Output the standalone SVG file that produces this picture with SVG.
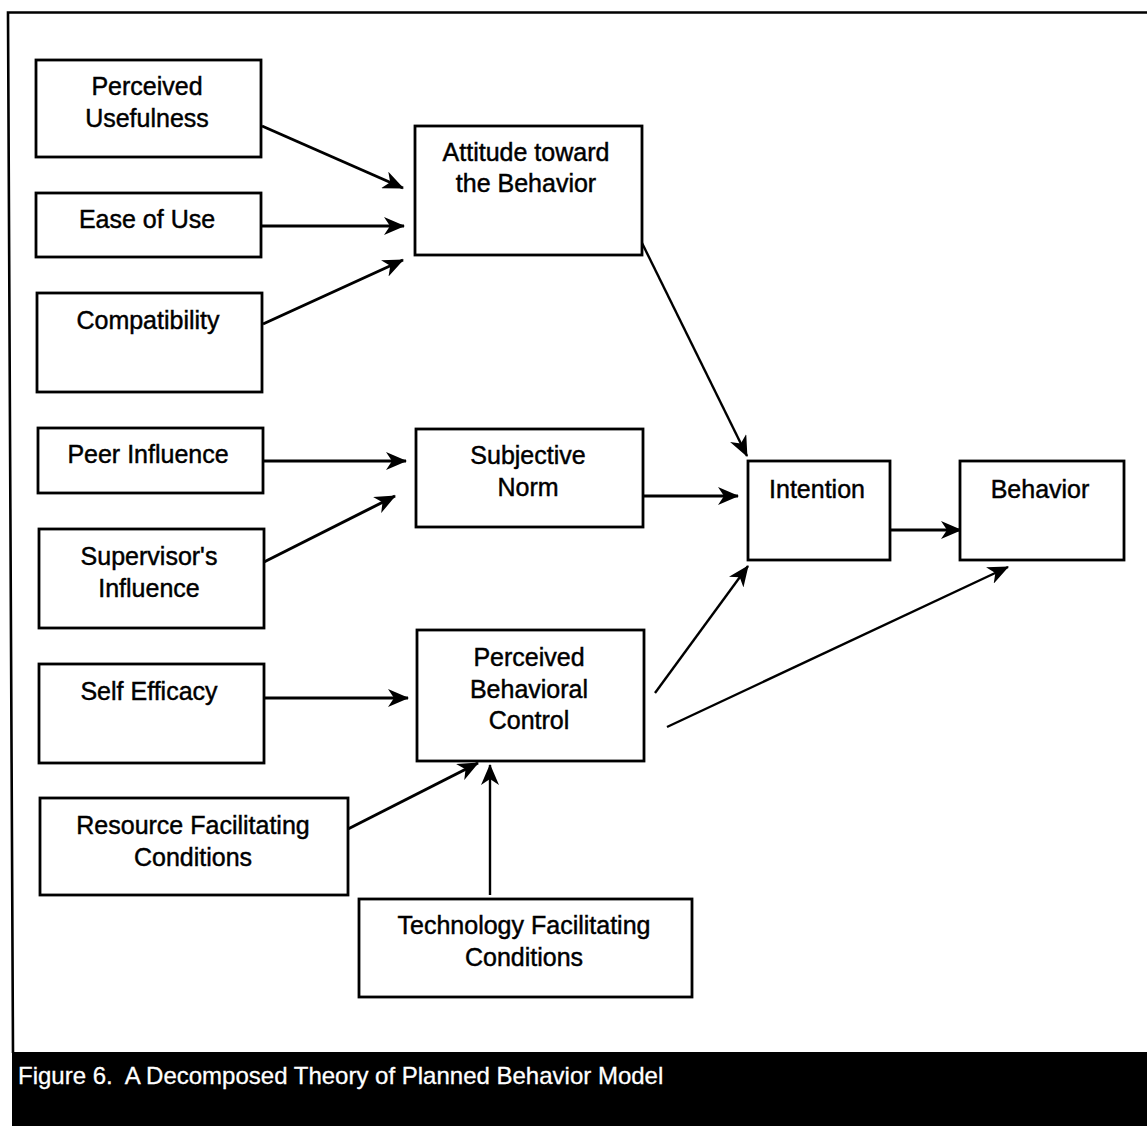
<svg xmlns="http://www.w3.org/2000/svg" width="1147" height="1126" viewBox="0 0 1147 1126">
  <style>
    .box { fill: #ffffff; stroke: #000000; stroke-width: 2.8; }
    .lbl { font-family: "Liberation Sans", Arial, sans-serif; font-size: 25px; fill: #000000; stroke: #000000; stroke-width: 0.45; text-anchor: middle; }
    .edge { fill: none; stroke: #000000; stroke-width: 3; marker-end: url(#head); }
    .edge.thin { stroke-width: 2.4; }
    .caption { font-family: "Liberation Sans", Arial, sans-serif; font-size: 24px; fill: #ffffff; stroke: #ffffff; stroke-width: 0.3; }
  </style>
  <defs>
    <marker id="head" markerUnits="userSpaceOnUse" markerWidth="21" markerHeight="18" viewBox="0 0 21 18" refX="20" refY="9" orient="auto">
      <path d="M0,0 L21,9 L0,18 L6,9 z" fill="#000000"/>
    </marker>
  </defs>

  <rect width="1147" height="1126" fill="#ffffff"/>

  <!-- frame -->
  <path d="M1147,12.5 L8,12.5 L13,1053" fill="none" stroke="#000000" stroke-width="2.6"/>

  <!-- connectors -->
  <g id="connectors">
    <line class="edge" x1="262" y1="126" x2="403" y2="188"/>
    <line class="edge" x1="262" y1="226" x2="404" y2="226"/>
    <line class="edge" x1="263" y1="324" x2="403" y2="260"/>
    <line class="edge" x1="263" y1="461" x2="406" y2="461"/>
    <line class="edge" x1="264" y1="562" x2="395" y2="496"/>
    <line class="edge thin" x1="642" y1="243" x2="747" y2="456"/>
    <line class="edge" x1="643" y1="496" x2="738" y2="496"/>
    <line class="edge" x1="890" y1="530" x2="961" y2="530"/>
    <line class="edge thin" x1="655" y1="693" x2="748" y2="566"/>
    <line class="edge thin" x1="667" y1="727" x2="1008" y2="567"/>
    <line class="edge" x1="264" y1="698" x2="408" y2="698"/>
    <line class="edge" x1="348" y1="829" x2="478" y2="763"/>
    <line class="edge thin" x1="490" y1="895" x2="490" y2="765"/>
  </g>

  <!-- determinants -->
  <g id="perceived-usefulness">
    <rect class="box" x="36" y="60" width="225" height="97"/>
    <text class="lbl" x="147" y="95">Perceived</text>
    <text class="lbl" x="147" y="127">Usefulness</text>
  </g>
  <g id="ease-of-use">
    <rect class="box" x="36" y="193" width="225" height="64"/>
    <text class="lbl" x="147" y="228">Ease of Use</text>
  </g>
  <g id="compatibility">
    <rect class="box" x="37" y="293" width="225" height="99"/>
    <text class="lbl" x="148" y="329">Compatibility</text>
  </g>
  <g id="peer-influence">
    <rect class="box" x="38" y="428" width="225" height="65"/>
    <text class="lbl" x="148" y="463">Peer Influence</text>
  </g>
  <g id="supervisors-influence">
    <rect class="box" x="39" y="529" width="225" height="99"/>
    <text class="lbl" x="149" y="565">Supervisor's</text>
    <text class="lbl" x="149" y="597">Influence</text>
  </g>
  <g id="self-efficacy">
    <rect class="box" x="39" y="664" width="225" height="99"/>
    <text class="lbl" x="149" y="700">Self Efficacy</text>
  </g>
  <g id="resource-facilitating">
    <rect class="box" x="40" y="798" width="308" height="97"/>
    <text class="lbl" x="193" y="834">Resource Facilitating</text>
    <text class="lbl" x="193" y="866">Conditions</text>
  </g>
  <g id="technology-facilitating">
    <rect class="box" x="359" y="899" width="333" height="98"/>
    <text class="lbl" x="524" y="934">Technology Facilitating</text>
    <text class="lbl" x="524" y="966">Conditions</text>
  </g>

  <!-- core constructs -->
  <g id="attitude">
    <rect class="box" x="415" y="126" width="227" height="129"/>
    <text class="lbl" x="526" y="161">Attitude toward</text>
    <text class="lbl" x="526" y="192">the Behavior</text>
  </g>
  <g id="subjective-norm">
    <rect class="box" x="416" y="429" width="227" height="98"/>
    <text class="lbl" x="528" y="464">Subjective</text>
    <text class="lbl" x="528" y="496">Norm</text>
  </g>
  <g id="perceived-behavioral-control">
    <rect class="box" x="417" y="630" width="227" height="131"/>
    <text class="lbl" x="529" y="666">Perceived</text>
    <text class="lbl" x="529" y="698">Behavioral</text>
    <text class="lbl" x="529" y="729">Control</text>
  </g>
  <g id="intention">
    <rect class="box" x="748" y="461" width="142" height="99"/>
    <text class="lbl" x="817" y="498">Intention</text>
  </g>
  <g id="behavior">
    <rect class="box" x="960" y="461" width="164" height="99"/>
    <text class="lbl" x="1040" y="498">Behavior</text>
  </g>

  <!-- caption band -->
  <g id="caption">
    <rect x="12" y="1052" width="1135" height="74" fill="#000000"/>
    <text class="caption" x="18" y="1084" xml:space="preserve">Figure 6.  A Decomposed Theory of Planned Behavior Model</text>
  </g>
</svg>
